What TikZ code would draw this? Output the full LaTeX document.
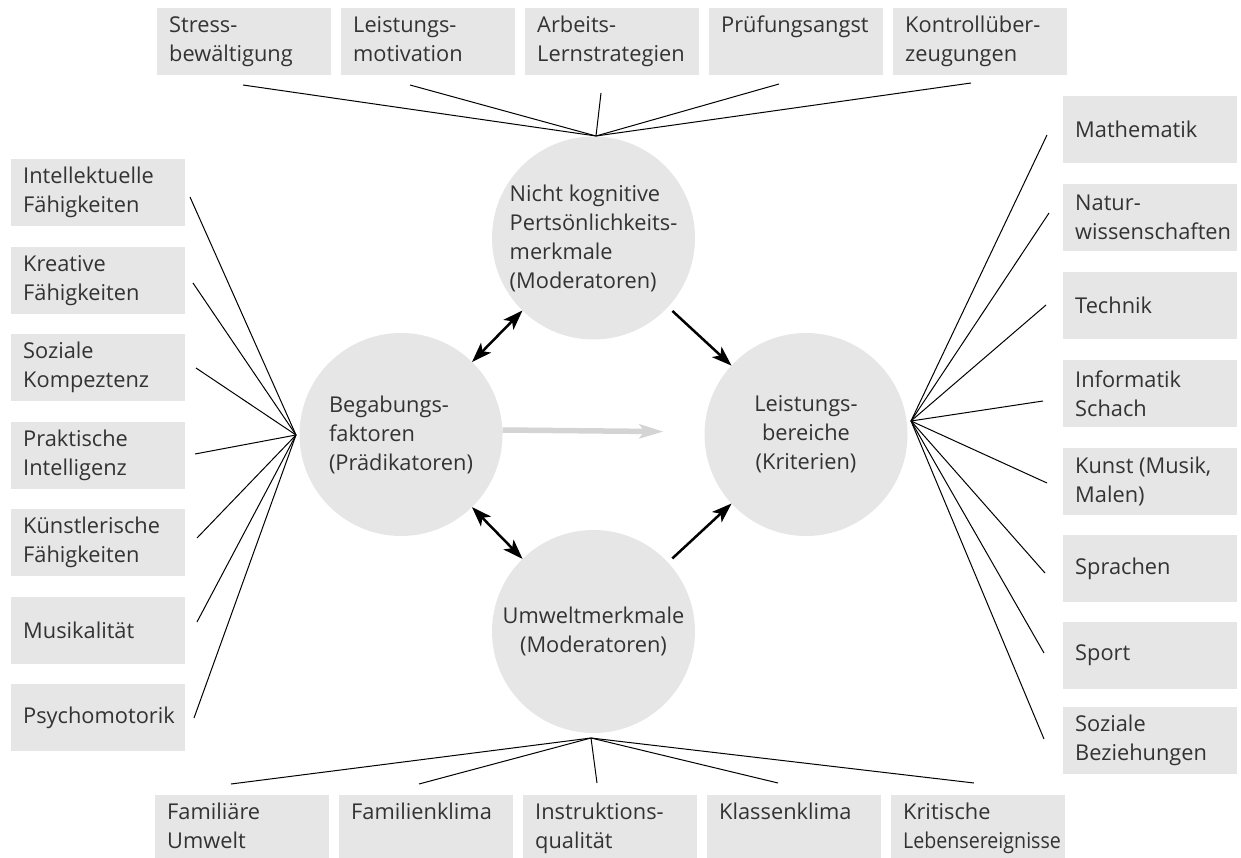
\documentclass[tikz,border=0pt]{standalone}
\usepackage{fontspec}
\setmainfont{Open Sans}
\usetikzlibrary{arrows.meta}
\definecolor{boxgray}{HTML}{E6E6E6}
\definecolor{textc}{HTML}{333333}
\definecolor{arrgray}{HTML}{D4D4D4}
\newcommand{\fsz}{\fontsize{21.8}{29}\selectfont}
\newcommand{\TopTxt}[1]{\parbox[c][59pt][t]{150pt}{\raggedright\strut #1}}
\newcommand{\SideTxt}[1]{\parbox[c][67pt][c]{150pt}{\raggedright #1}}
\hfuzz=60pt \hbadness=10000
\begin{document}
\begin{tikzpicture}[x=1pt,y=-1pt,
  box/.style={fill=boxgray, draw=none, minimum width=174pt, minimum height=67pt, inner sep=0pt, anchor=north west, text=textc, font=\fsz},
  tbox/.style={box, inner ysep=4pt},
  circ/.style={circle, fill=boxgray, draw=none, minimum size=203pt, inner sep=0pt, outer sep=0pt, text=textc, font=\fsz},
  conn/.style={line width=1pt, black},
  dbl/.style={line width=2.5pt, black, {Stealth[length=20pt,width=14pt,inset=5pt]}-{Stealth[length=20pt,width=14pt,inset=5pt]}},
  sgl/.style={line width=2.5pt, black, shorten <=6pt, -{Stealth[length=20pt,width=14pt,inset=5pt]}},
  garrow/.style={line width=5.5pt, arrgray, -{Stealth[length=24pt,width=14pt,inset=5pt]}}]
\useasboundingbox (0,0) rectangle (1241,858);

% circles
\node[circ, align=left] (T) at (593.5,238) {Nicht kognitive\\Pertsönlichkeits-\\merkmale\\(Moderatoren)};
\node[circ, align=left] (L) at (401,434.5) {Begabungs-\\faktoren\\(Prädikatoren)};
\node[circ, align=center] (R) at (806,434.5) {Leistungs-\\bereiche\\(Kriterien)};
\node[circ, align=center] (B) at (593.5,631.5) {Umweltmerkmale\\(Moderatoren)};

% top boxes
\node[tbox] (t1) at (157,8) {\TopTxt{Stress-\\bewältigung}};
\node[tbox] (t2) at (341,8) {\TopTxt{Leistungs-\\motivation}};
\node[tbox] (t3) at (525,8) {\TopTxt{Arbeits-\\Lernstrategien}};
\node[tbox] (t4) at (709,8) {\TopTxt{Prüfungsangst}};
\node[tbox] (t5) at (893,8) {\TopTxt{Kontrollüber-\\zeugungen}};

% bottom boxes
\node[tbox] (b1) at (155,795) {\TopTxt{Familiäre\\Umwelt}};
\node[tbox] (b2) at (339,795) {\TopTxt{Familienklima}};
\node[tbox] (b3) at (523,795) {\TopTxt{Instruktions-\\qualität}};
\node[tbox] (b4) at (707,795) {\TopTxt{Klassenklima}};
\node[tbox] (b5) at (891,795) {\TopTxt{Kritische\\{\addfontfeatures{FakeStretch=0.9}Lebensereignisse}}};

% left boxes
\node[box] (l1) at (11,159) {\SideTxt{Intellektuelle\\Fähigkeiten}};
\node[box] (l2) at (11,246.5) {\SideTxt{Kreative\\Fähigkeiten}};
\node[box] (l3) at (11,334) {\SideTxt{Soziale\\Kompeztenz}};
\node[box] (l4) at (11,421.5) {\SideTxt{Praktische\\Intelligenz}};
\node[box] (l5) at (11,509) {\SideTxt{Künstlerische\\Fähigkeiten}};
\node[box] (l6) at (11,596.5) {\SideTxt{Musikalität}};
\node[box] (l7) at (11,684) {\SideTxt{Psychomotorik}};

% right boxes
\node[box] (r1) at (1063,96) {\SideTxt{Mathematik}};
\node[box] (r2) at (1063,184) {\SideTxt{Natur-\\wissenschaften}};
\node[box] (r3) at (1063,272) {\SideTxt{Technik}};
\node[box] (r4) at (1063,360) {\SideTxt{Informatik\\Schach}};
\node[box] (r5) at (1063,448) {\SideTxt{Kunst (Musik,\\Malen)}};
\node[box] (r6) at (1063,535) {\SideTxt{Sprachen}};
\node[box] (r7) at (1063,622) {\SideTxt{Sport}};
\node[box] (r8) at (1063,707) {\SideTxt{Soziale\\Beziehungen}};

% hubs
\coordinate (hT) at (596,136);
\coordinate (hB) at (591,738);
\coordinate (hL) at (296,435);
\coordinate (hR) at (911,421);

% connector ends
\coordinate (et1) at (243,85);
\coordinate (et2) at (410,85);
\coordinate (et3) at (601,93);
\coordinate (et4) at (779,84);
\coordinate (et5) at (971,83);
\coordinate (eb1) at (231,784);
\coordinate (eb2) at (419,784);
\coordinate (eb3) at (597,783);
\coordinate (eb4) at (778,783);
\coordinate (eb5) at (974,783);
\coordinate (el1) at (190,197);
\coordinate (el2) at (193,283);
\coordinate (el3) at (196,368);
\coordinate (el4) at (195,454);
\coordinate (el5) at (197,538);
\coordinate (el6) at (197,622);
\coordinate (el7) at (194,718);
\coordinate (er1) at (1047,135);
\coordinate (er2) at (1049,213);
\coordinate (er3) at (1046,305);
\coordinate (er4) at (1043,401);
\coordinate (er5) at (1047,483);
\coordinate (er6) at (1045,573);
\coordinate (er7) at (1044,653);
\coordinate (er8) at (1044,739);

\foreach \i in {1,...,5} {\draw[conn] (hT) -- (et\i); \draw[conn] (hB) -- (eb\i);}
\foreach \i in {1,...,7} {\draw[conn] (hL) -- (el\i);}
\foreach \i in {1,...,8} {\draw[conn] (hR) -- (er\i);}

% arrows
\draw[dbl] (T) -- (L);
\draw[sgl] (T) -- (R);
\draw[dbl] (L) -- (B);
\draw[sgl] (B) -- (R);
\draw[garrow, shorten >=41pt] ([yshift=4.5pt]L.east) -- ([yshift=2.5pt]R.west);
\end{tikzpicture}
\end{document}
